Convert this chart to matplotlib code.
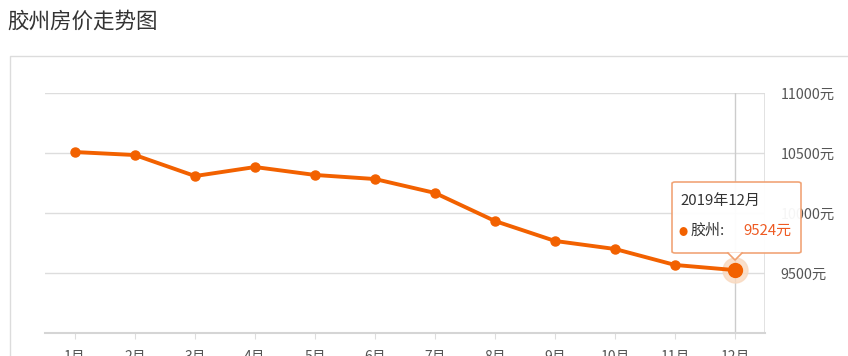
import matplotlib
matplotlib.use("Agg")
import matplotlib.pyplot as plt
from matplotlib.patches import Rectangle, FancyBboxPatch, Polygon

plt.rcParams['font.family'] = ['Noto Sans CJK SC', 'DejaVu Sans']

title = "胶州房价走势图"
city = "胶州"
months = ["1月", "2月", "3月", "4月", "5月", "6月", "7月", "8月", "9月", "10月", "11月", "12月"]
prices = [10508, 10483, 10308, 10383, 10317, 10283, 10167, 9933, 9767, 9700, 9567, 9524]
y_ticks = [9000, 9500, 10000, 10500, 11000]
tip_label = "2019年12月"

W, H = 848, 356
orange = "#f26100"

fig = plt.figure(figsize=(W / 100, H / 100), dpi=100)

def fx(px):
    return px / W

def fy(py):
    return 1 - py / H

# outer panel + title
fig.patches.append(Rectangle((fx(10), fy(400)), fx(860) - fx(10), fy(56) - fy(400),
                             transform=fig.transFigure, fill=False, ec="#dcdcdc", lw=1))
fig.text(fx(7), fy(22), title, fontsize=15.5, color="#333333", va="center", ha="left")

ax = fig.add_axes([fx(45), fy(333), fx(765) - fx(45), fy(93) - fy(333)])
x = list(range(len(months)))
ax.set_xlim(-0.5, len(months) - 0.5)
ax.set_ylim(9000, 11000)

for v in y_ticks[1:]:
    ax.axhline(v, color="#dddddd", lw=1, zorder=0)
ax.axvline(len(months) - 0.5, color="#dddddd", lw=1.2, zorder=0)
ax.axvline(x[-1], color="#cccccc", lw=1, zorder=0)

for s in ["top", "left", "right"]:
    ax.spines[s].set_visible(False)
ax.spines["bottom"].set_color("#d5d5d5")
ax.spines["bottom"].set_linewidth(1.5)

ax.plot(x, prices, color=orange, lw=2.8, marker="o", ms=6.5, zorder=3)
ax.plot(x[-1], prices[-1], "o", ms=18, color="#f9d9bf", alpha=0.8, zorder=2)
ax.plot(x[-1], prices[-1], "o", ms=10, color=orange, zorder=4)

ax.set_xticks(x)
ax.set_xticklabels(months, fontsize=10, color="#555555")
ax.tick_params(axis="x", length=4, color="#dddddd", pad=8)
ax.yaxis.tick_right()
ax.set_yticks(y_ticks[1:])
ax.set_yticklabels([f"{v}元" for v in y_ticks[1:]], fontsize=10.3, color="#555555")
ax.tick_params(axis="y", length=0, pad=11)

# tooltip
box = FancyBboxPatch((fx(672), fy(253)), fx(801) - fx(672), fy(182) - fy(253),
                     boxstyle="round,pad=0,rounding_size=0.004", transform=fig.transFigure,
                     fc="white", ec="#f0a070", lw=1.2, alpha=0.95, zorder=10)
fig.patches.append(box)
fig.patches.append(Polygon([(fx(728), fy(252.4)), (fx(742), fy(252.4)), (fx(735), fy(260))],
                           closed=True, transform=fig.transFigure, fc="white", ec="none", zorder=11))
fig.lines.append(plt.Line2D([fx(728), fx(735), fx(742)], [fy(253), fy(260), fy(253)],
                            transform=fig.transFigure, color="#f0a070", lw=1.2, zorder=12))
fig.text(fx(680), fy(201), tip_label, fontsize=10.8, color="#333333", va="center", zorder=13)
fig.text(fx(683), fy(232), "●", fontsize=6.5, color=orange, va="center", ha="center", zorder=13)
fig.text(fx(691), fy(231), city + ":", fontsize=10.8, color="#333333", va="center", zorder=13)
fig.text(fx(792), fy(231), f"{prices[-1]}元", fontsize=10.8, color="#ee5a22", va="center",
         ha="right", zorder=13)

fig.savefig("out.png", dpi=100)
